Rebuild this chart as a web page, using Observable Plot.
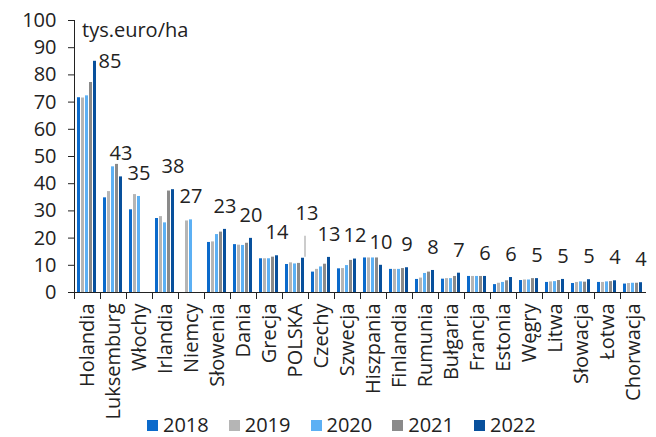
<!DOCTYPE html>
<html><head><meta charset="utf-8">
<script src="https://cdn.jsdelivr.net/npm/d3@7"></script>
<script src="https://cdn.jsdelivr.net/npm/@observablehq/plot@0.6"></script>
<style>
body{margin:0;background:#fff;font-family:"Open Sans",sans-serif;}
#wrap{position:relative;width:656px;height:437px;}
#unit{position:absolute;left:82px;top:20px;font-size:20px;line-height:1;color:#222;}
#legend{position:absolute;left:147px;top:414px;display:flex;font-size:20px;line-height:22px;height:22px;color:#222;white-space:nowrap;}
.item{display:flex;align-items:center;margin-right:20px;}
.sw{width:11px;height:11px;margin-right:5px;flex:none;}
</style></head><body>
<div id="wrap"><div id="chart"></div><div id="unit">tys.euro/ha</div><div id="legend"></div></div>
<script>
const countries = ["Holandia","Luksemburg","Włochy","Irlandia","Niemcy","Słowenia","Dania","Grecja","POLSKA","Czechy","Szwecja","Hiszpania","Finlandia","Rumunia","Bułgaria","Francja","Estonia","Węgry","Litwa","Słowacja","Łotwa","Chorwacja"];
const years = ["2018","2019","2020","2021","2022"];
const v2018 = [71.6,34.8,30.4,27.2,null,18.4,17.6,12.4,10.3,7.5,8.7,12.7,8.5,4.8,4.9,5.9,2.9,4.4,3.7,3.3,3.7,3.1];
const v2019 = [71.5,37.1,36.0,27.9,26.3,18.6,17.4,12.4,10.9,8.5,8.8,12.7,8.5,5.3,5.1,5.9,3.4,4.6,3.9,3.7,3.7,3.3];
const v2020 = [72.3,46.2,35.3,25.6,26.7,21.3,17.3,12.4,10.5,9.4,9.9,12.7,8.5,7.0,5.1,5.9,3.7,4.6,4.0,3.9,3.9,3.4];
const v2021 = [77.2,47.1,null,37.3,null,22.2,18.1,13.0,10.7,10.4,11.8,12.7,8.8,7.5,5.9,5.9,4.3,5.1,4.4,3.8,4.0,3.4];
const v2022 = [85.0,42.5,null,37.8,null,23.2,19.9,13.5,12.6,12.9,12.3,10.0,9.1,8.1,7.1,5.9,5.5,5.1,4.8,4.7,4.3,3.6];
const labelValues = [85,43,35,38,27,23,20,14,13,13,12,10,9,8,7,6,6,5,5,5,4,4];
const colors = ["#0b6acb","#b5b5b5","#5cb0f4","#8a8a8a","#08509c"];

const series = [v2018,v2019,v2020,v2021,v2022];
const rows = [];
countries.forEach((c,i)=>years.forEach((y,j)=>{
  const v = series[j][i];
  if (v != null) rows.push({country:c, year:y, value:v});
}));
const labelRows = countries.map((c,i)=>{
  let j = years.length-1;
  while (series[j][i] == null) j--;
  return {country:c, year:years[j], value:series[j][i], label:String(labelValues[i])};
});
const special = new Set(["Holandia","POLSKA"]);

const chart = Plot.plot({
  width: 656, height: 414,
  marginLeft: 66, marginRight: 3, marginTop: 20, marginBottom: 122,
  style: {fontFamily: "Open Sans", fontSize: "20px", color: "#222", background: "white", overflow: "visible"},
  fx: {domain: countries, padding: 0, label: null, tickSize: 0, tickRotate: -90, tickPadding: 11},
  x: {domain: years, axis: null, paddingInner: 0.22, paddingOuter: 0.78},
  y: {domain: [0,100], ticks: 10, tickSize: 6, tickPadding: 12, label: null, line: true},
  color: {domain: years, range: colors},
  marks: [
    Plot.barY(rows, {fx: "country", x: "year", y: "value", fill: "year"}),
    Plot.ruleY([0], {stroke: "#222"}),
    Plot.frame({anchor: "left", insetTop: 272, insetBottom: -6, stroke: "#222"}),
    Plot.text(labelRows, {filter: d => !special.has(d.country), fx: "country", x: "year", y: "value", text: "label", dy: -23, fill: "#222"}),
    Plot.text(labelRows, {filter: d => d.country === "Holandia", fx: "country", x: "year", y: "value", text: "label", dx: 15, dy: 0, fill: "#222"}),
    Plot.text(labelRows, {filter: d => d.country === "POLSKA", fx: "country", x: "year", y: "value", text: "label", dx: 4, dy: -45, fill: "#222"}),
    Plot.ruleX(labelRows, {filter: d => d.country === "POLSKA", fx: "country", x: "year", y1: "value", y2: "value", insetTop: -22, insetBottom: 1, dx: 2, stroke: "#aaa", strokeWidth: 1.2})
  ]
});
document.getElementById("chart").appendChild(chart);

const lg = document.getElementById("legend");
years.forEach((y,j)=>{
  const it = document.createElement("div"); it.className = "item";
  const sw = document.createElement("div"); sw.className = "sw"; sw.style.background = colors[j];
  const t = document.createElement("span"); t.textContent = y;
  it.appendChild(sw); it.appendChild(t); lg.appendChild(it);
});
</script>
</body></html>
